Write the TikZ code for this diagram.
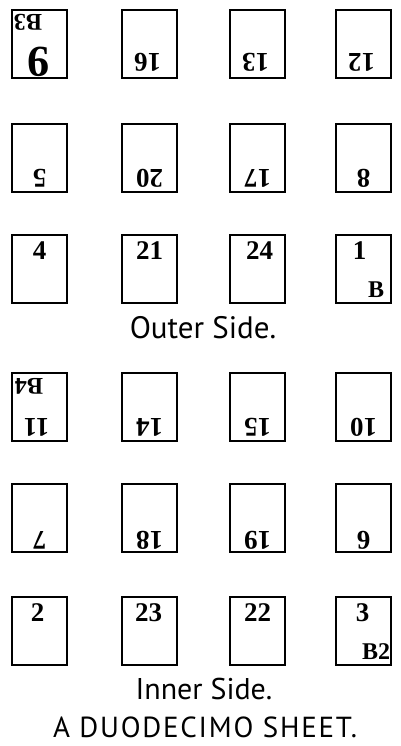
\documentclass[tikz,border=0pt]{standalone}
\usepackage{fontspec}
\setmainfont{Liberation Serif}
\newfontfamily\capfont{PT Sans}
\newfontfamily\titlefont{PT Sans}[LetterSpace=6]
\begin{document}
\begin{tikzpicture}[x=1pt,y=-1pt,
  pg/.style={draw, line width=2pt, minimum width=55pt, minimum height=68pt, anchor=north west, inner sep=0pt},
  num/.style={font=\fontsize{27}{27}\selectfont\bfseries, inner sep=0pt},
  flip/.style={num, rotate=180},
  sig/.style={font=\fontsize{24}{24}\selectfont\bfseries, inner sep=0pt},
  captxt/.style={font=\capfont\fontsize{31}{31}\selectfont, inner sep=0pt}]
\useasboundingbox (0,0) rectangle (400,746);
% boxes
\foreach \r/\y in {1/9,2/123,3/234,4/372,5/483,6/596}{
  \foreach \c/\x in {1/11,2/121,3/229,4/335}{
    \node[pg] (b\r\c) at (\x,\y) {};
  }
}
% row 1 (flipped)
\node[flip, font=\fontsize{44}{44}\selectfont\bfseries] (n9) at ([xshift=-1pt,yshift=17pt]b11.south) {9};
\node[sig, rotate=180] (sB3) at ([xshift=17pt,yshift=-13pt]b11.north west) {B3};
\node[flip] (n16) at ([xshift=-2pt,yshift=17pt]b12.south) {16};
\node[flip] (n13) at ([xshift=-2pt,yshift=17pt]b13.south) {13};
\node[flip] (n12) at ([xshift=-2pt,yshift=17pt]b14.south) {12};
% row 2 (flipped)
\node[flip] (n5) at ([yshift=15pt]b21.south) {5};
\node[flip] (n20) at ([yshift=15pt]b22.south) {20};
\node[flip] (n17) at ([yshift=15pt]b23.south) {17};
\node[flip] (n8) at ([yshift=15pt]b24.south) {8};
% row 3 (upright)
\node[num] (n4) at ([yshift=-17pt]b31.north) {4};
\node[num] (n21) at ([yshift=-17pt]b32.north) {21};
\node[num] (n24) at ([xshift=2pt,yshift=-17pt]b33.north) {24};
\node[num] (n1) at ([xshift=-4pt,yshift=-17pt]b34.north) {1};
\node[sig] (sB) at ([xshift=-16pt,yshift=14pt]b34.south east) {B};
\node[captxt] (outer) at (203,328) {Outer Side.};
% row 4 (flipped)
\node[flip] (n11) at ([xshift=-3pt,yshift=15pt]b41.south) {11};
\node[sig, rotate=180] (sB4) at ([xshift=18pt,yshift=-14pt]b41.north west) {B4};
\node[flip] (n14) at ([yshift=15pt]b42.south) {14};
\node[flip] (n15) at ([yshift=15pt]b43.south) {15};
\node[flip] (n10) at ([yshift=15pt]b44.south) {10};
% row 5 (flipped)
\node[flip] (n7) at ([yshift=13pt]b51.south) {7};
\node[flip] (n18) at ([yshift=13pt]b52.south) {18};
\node[flip] (n19) at ([yshift=13pt]b53.south) {19};
\node[flip] (n6) at ([yshift=13pt]b54.south) {6};
% row 6 (upright)
\node[num] (n2) at ([xshift=-2pt,yshift=-17pt]b61.north) {2};
\node[num] (n23) at ([xshift=-1pt,yshift=-17pt]b62.north) {23};
\node[num] (n22) at ([yshift=-17pt]b63.north) {22};
\node[num] (n3) at ([xshift=-1pt,yshift=-17pt]b64.north) {3};
\node[sig] (sB2) at ([xshift=-16pt,yshift=14pt]b64.south east) {B2};
\node[captxt, font=\capfont\fontsize{30}{30}\selectfont] (inner) at (204,689) {Inner Side.};
\node[inner sep=0pt, font=\titlefont\fontsize{29}{29}\selectfont] (title) at (205,727) {A DUODECIMO SHEET.};
\end{tikzpicture}
\end{document}
